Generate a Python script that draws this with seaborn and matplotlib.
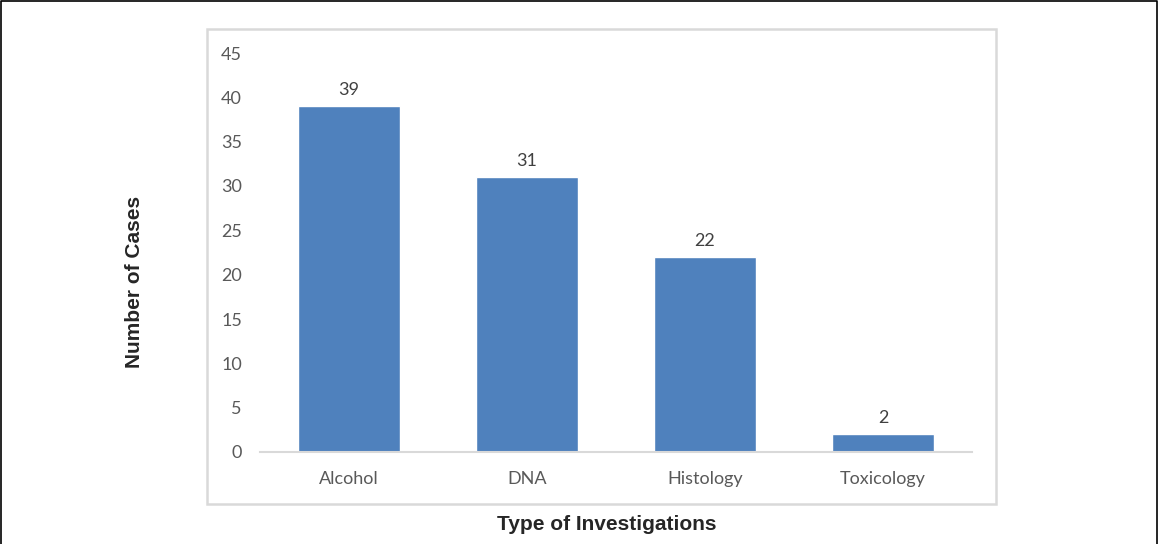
import matplotlib
matplotlib.use('Agg')
import matplotlib.pyplot as plt
import seaborn as sns
import pandas as pd
from matplotlib.patches import Rectangle

# Data
investigations = ['Alcohol', 'DNA', 'Histology', 'Toxicology']
cases = [39, 31, 22, 2]
y_ticks = [0, 5, 10, 15, 20, 25, 30, 35, 40, 45]

df = pd.DataFrame({'Investigation': investigations, 'Cases': cases})

sns.set_style('white')
plt.rcParams['font.family'] = ['Lato', 'DejaVu Sans']

fig = plt.figure(figsize=(11.58, 5.44), dpi=100)
ax = fig.add_axes([260 / 1158, 92 / 544, 712 / 1158, 399 / 544])

sns.barplot(data=df, x='Investigation', y='Cases', color='#4F81BD',
            saturation=1, width=0.575, ax=ax)

ax.set_ylim(0, 45)
ax.set_xlim(-0.5, 3.5)
ax.set_yticks(y_ticks)
ax.tick_params(axis='y', length=0, pad=13, labelsize=13, labelcolor='#595959')
ax.tick_params(axis='x', length=0, pad=13.5, labelsize=13, labelcolor='#595959')
ax.set_xlabel('')
ax.set_ylabel('')
for side in ['top', 'right', 'left']:
    ax.spines[side].set_visible(False)
ax.spines['bottom'].set_color('#D9D9D9')
ax.spines['bottom'].set_linewidth(1.5)

ax.bar_label(ax.containers[0], padding=6, fontsize=13, color='#404040')

# chart area frame
fig.patches.append(Rectangle((207 / 1158, 40 / 544), 789 / 1158, 475 / 544,
                             transform=fig.transFigure, fill=False,
                             edgecolor='#D9D9D9', linewidth=1.8))
# outer border
fig.add_artist(plt.Line2D([0.0005, 0.0005, 0.9995, 0.9995], [0, 0.9985, 0.9985, 0],
                          transform=fig.transFigure, color='black', linewidth=1.2))

fig.text(135 / 1158, 1 - 282 / 544, 'Number of Cases', rotation=90, ha='center', va='center',
         fontsize=15, fontweight='bold', family=['Liberation Sans', 'DejaVu Sans'])
fig.text(607 / 1158, 1 - 525 / 544, 'Type of Investigations', ha='center', va='center',
         fontsize=15, fontweight='bold', family=['Liberation Sans', 'DejaVu Sans'])

fig.savefig('out.png', dpi=100)
